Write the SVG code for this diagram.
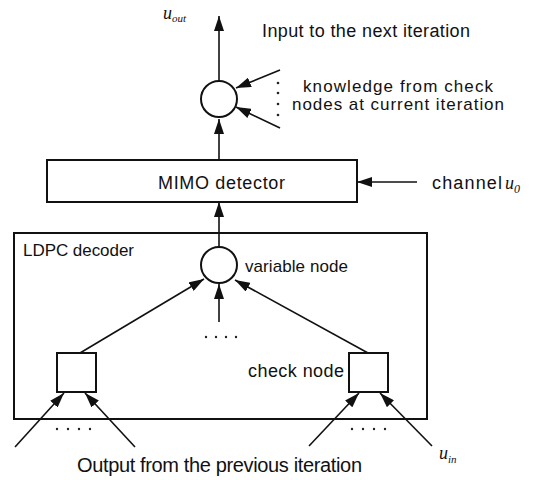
<svg xmlns="http://www.w3.org/2000/svg" width="542" height="480" viewBox="0 0 542 480">
<defs>
<marker id="arr" markerUnits="userSpaceOnUse" markerWidth="15" markerHeight="10" refX="15" refY="5" orient="auto">
<path d="M0,0 L15,5 L0,10 z" fill="#111"/>
</marker>
</defs>
<style>
.ln{stroke:#111;stroke-width:1.6;fill:none}
.ar{stroke:#111;stroke-width:1.6;fill:none;marker-end:url(#arr)}
.bx{stroke:#111;stroke-width:2;fill:#fff}
.t{font-family:"Liberation Sans",Arial,sans-serif;fill:#111}
.m{font-family:"Liberation Serif","Times New Roman",serif;font-style:italic;fill:#111}
.d{fill:#222}
</style>
<rect width="542" height="480" fill="#fff"/>

<g id="ldpc">
<rect class="bx" x="14" y="233" width="413" height="186"/>
<text class="t" x="23" y="256" font-size="17" textLength="111">LDPC decoder</text>
</g>

<g id="connectors">
<line class="ar" x1="219" y1="81" x2="219" y2="16"/>
<line class="ar" x1="280" y1="70" x2="236" y2="88"/>
<line class="ar" x1="280" y1="128" x2="236" y2="107"/>
<line class="ar" x1="219" y1="160" x2="219" y2="119"/>
<line class="ar" x1="417" y1="182" x2="357" y2="182"/>
<line class="ar" x1="219" y1="247" x2="219" y2="202"/>
<line class="ar" x1="80" y1="353" x2="204" y2="279"/>
<line class="ar" x1="368" y1="353" x2="235" y2="280"/>
<line class="ar" x1="219" y1="322" x2="219" y2="284"/>
<line class="ar" x1="15" y1="447" x2="64" y2="393"/>
<line class="ar" x1="135" y1="447" x2="85" y2="393"/>
<line class="ar" x1="309" y1="446" x2="359" y2="393"/>
<line class="ar" x1="432" y1="446" x2="380" y2="393"/>
</g>

<g id="top-node">
<circle class="bx" cx="219" cy="99" r="18"/>
</g>

<g id="mimo">
<rect class="bx" x="47" y="160" width="310" height="42"/>
<text class="t" x="158" y="189" font-size="18" textLength="127">MIMO detector</text>
</g>

<g id="variable-node">
<circle class="bx" cx="219" cy="265" r="18"/>
<text class="t" x="245" y="272" font-size="17" textLength="103">variable node</text>
</g>

<g id="check-node-left">
<rect class="bx" x="57" y="353" width="39" height="39"/>
</g>

<g id="check-node-right">
<rect class="bx" x="349" y="353" width="39" height="39"/>
<text class="t" x="248" y="377" font-size="18" textLength="96">check node</text>
</g>

<g id="dots">
<circle class="d" cx="278" cy="83" r="1.3"/>
<circle class="d" cx="278" cy="93" r="1.3"/>
<circle class="d" cx="278" cy="104" r="1.3"/>
<circle class="d" cx="278" cy="115" r="1.3"/>
<circle class="d" cx="206" cy="337" r="1.2"/>
<circle class="d" cx="216" cy="337" r="1.2"/>
<circle class="d" cx="226" cy="337" r="1.2"/>
<circle class="d" cx="236" cy="337" r="1.2"/>
<circle class="d" cx="57" cy="429" r="1.2"/>
<circle class="d" cx="68" cy="429" r="1.2"/>
<circle class="d" cx="79" cy="429" r="1.2"/>
<circle class="d" cx="90" cy="429" r="1.2"/>
<circle class="d" cx="352" cy="429" r="1.2"/>
<circle class="d" cx="363" cy="429" r="1.2"/>
<circle class="d" cx="374" cy="429" r="1.2"/>
<circle class="d" cx="385" cy="429" r="1.2"/>
</g>

<g id="labels">
<text class="m" x="163" y="19" font-size="18">u<tspan font-size="11" dy="3">out</tspan></text>
<text class="t" x="262" y="37" font-size="18" textLength="208">Input to the next iteration</text>
<text class="t" x="303" y="92" font-size="17" textLength="190">knowledge from check</text>
<text class="t" x="292" y="110" font-size="17" textLength="212">nodes at current iteration</text>
<text class="t" x="432" y="189" font-size="18" textLength="70">channel</text>
<text class="m" x="505" y="189" font-size="18">u<tspan font-size="12" dy="4">0</tspan></text>
<text class="m" x="439" y="459" font-size="18">u<tspan font-size="11" dy="4">in</tspan></text>
<text class="t" x="77" y="472" font-size="20" textLength="285">Output from the previous iteration</text>
</g>
</svg>
